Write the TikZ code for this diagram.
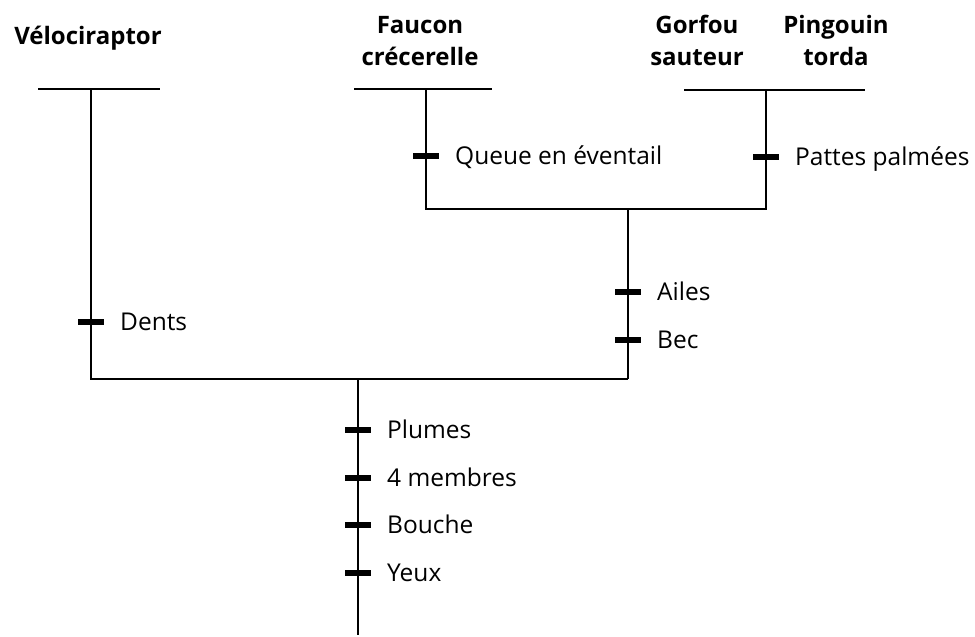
\documentclass[tikz,border=0pt]{standalone}
\usepackage{fontspec}
\setmainfont{Open Sans}
\begin{document}
\begin{tikzpicture}[x=1pt,y=-1pt,
  br/.style={line width=1.4pt},
  tick/.style={line width=6pt},
  lab/.style={anchor=base west,inner sep=0pt,font=\fontsize{24.5}{32}\selectfont},
  taxon/.style={align=center,anchor=base,inner sep=0pt,font=\fontsize{24}{32}\selectfont\bfseries}]
\useasboundingbox (0,0) rectangle (975,637);
% taxa
\node[taxon] (velo) at (88,45) {Vélociraptor};
\node[taxon] (fauc) at (420,65) {Faucon\\crécerelle};
\node[taxon] (gorf) at (697,65) {Gorfou\\sauteur};
\node[taxon] (ping) at (836,65) {Pingouin\\torda};
% coordinates
\coordinate (vL) at (38,89); \coordinate (vR) at (160,89); \coordinate (vT) at (91,89);
\coordinate (fL) at (354,89); \coordinate (fR) at (492,89); \coordinate (fT) at (426,89);
\coordinate (gL) at (684,90); \coordinate (gR) at (865,90); \coordinate (gT) at (766,90);
\coordinate (fB) at (426,209); \coordinate (gB) at (766,209); \coordinate (n2) at (628,209);
\coordinate (vB) at (91,379); \coordinate (n2B) at (628,379); \coordinate (n1) at (358,379);
\coordinate (root) at (358,635);
% branches
\draw[br] (vL) -- (vR); \draw[br] (fL) -- (fR); \draw[br] (gL) -- (gR);
\draw[br] (vT) -- (vB) -- (n2B);
\draw[br] (fT) -- (fB) -- (gB) -- (gT);
\draw[br] (n2) -- (n2B);
\draw[br] (n1) -- (root);
% ticks
\foreach \x/\y/\n/\t in {91/322/d/Dents, 426/156/q/Queue en éventail, 766/157/p/Pattes palmées,
  628/292/a/Ailes, 628/340/b/Bec, 358/430/pl/Plumes, 358/478/m/4 membres,
  358/525/bo/Bouche, 358/573/y/Yeux}{
  \coordinate (t\n L) at (\x-13,\y); \coordinate (t\n R) at (\x+13,\y);
  \draw[tick] (t\n L) -- (t\n R);
  \node[lab] (l\n) at (\x+29,\y+8) {\t};
}
\end{tikzpicture}
\end{document}
